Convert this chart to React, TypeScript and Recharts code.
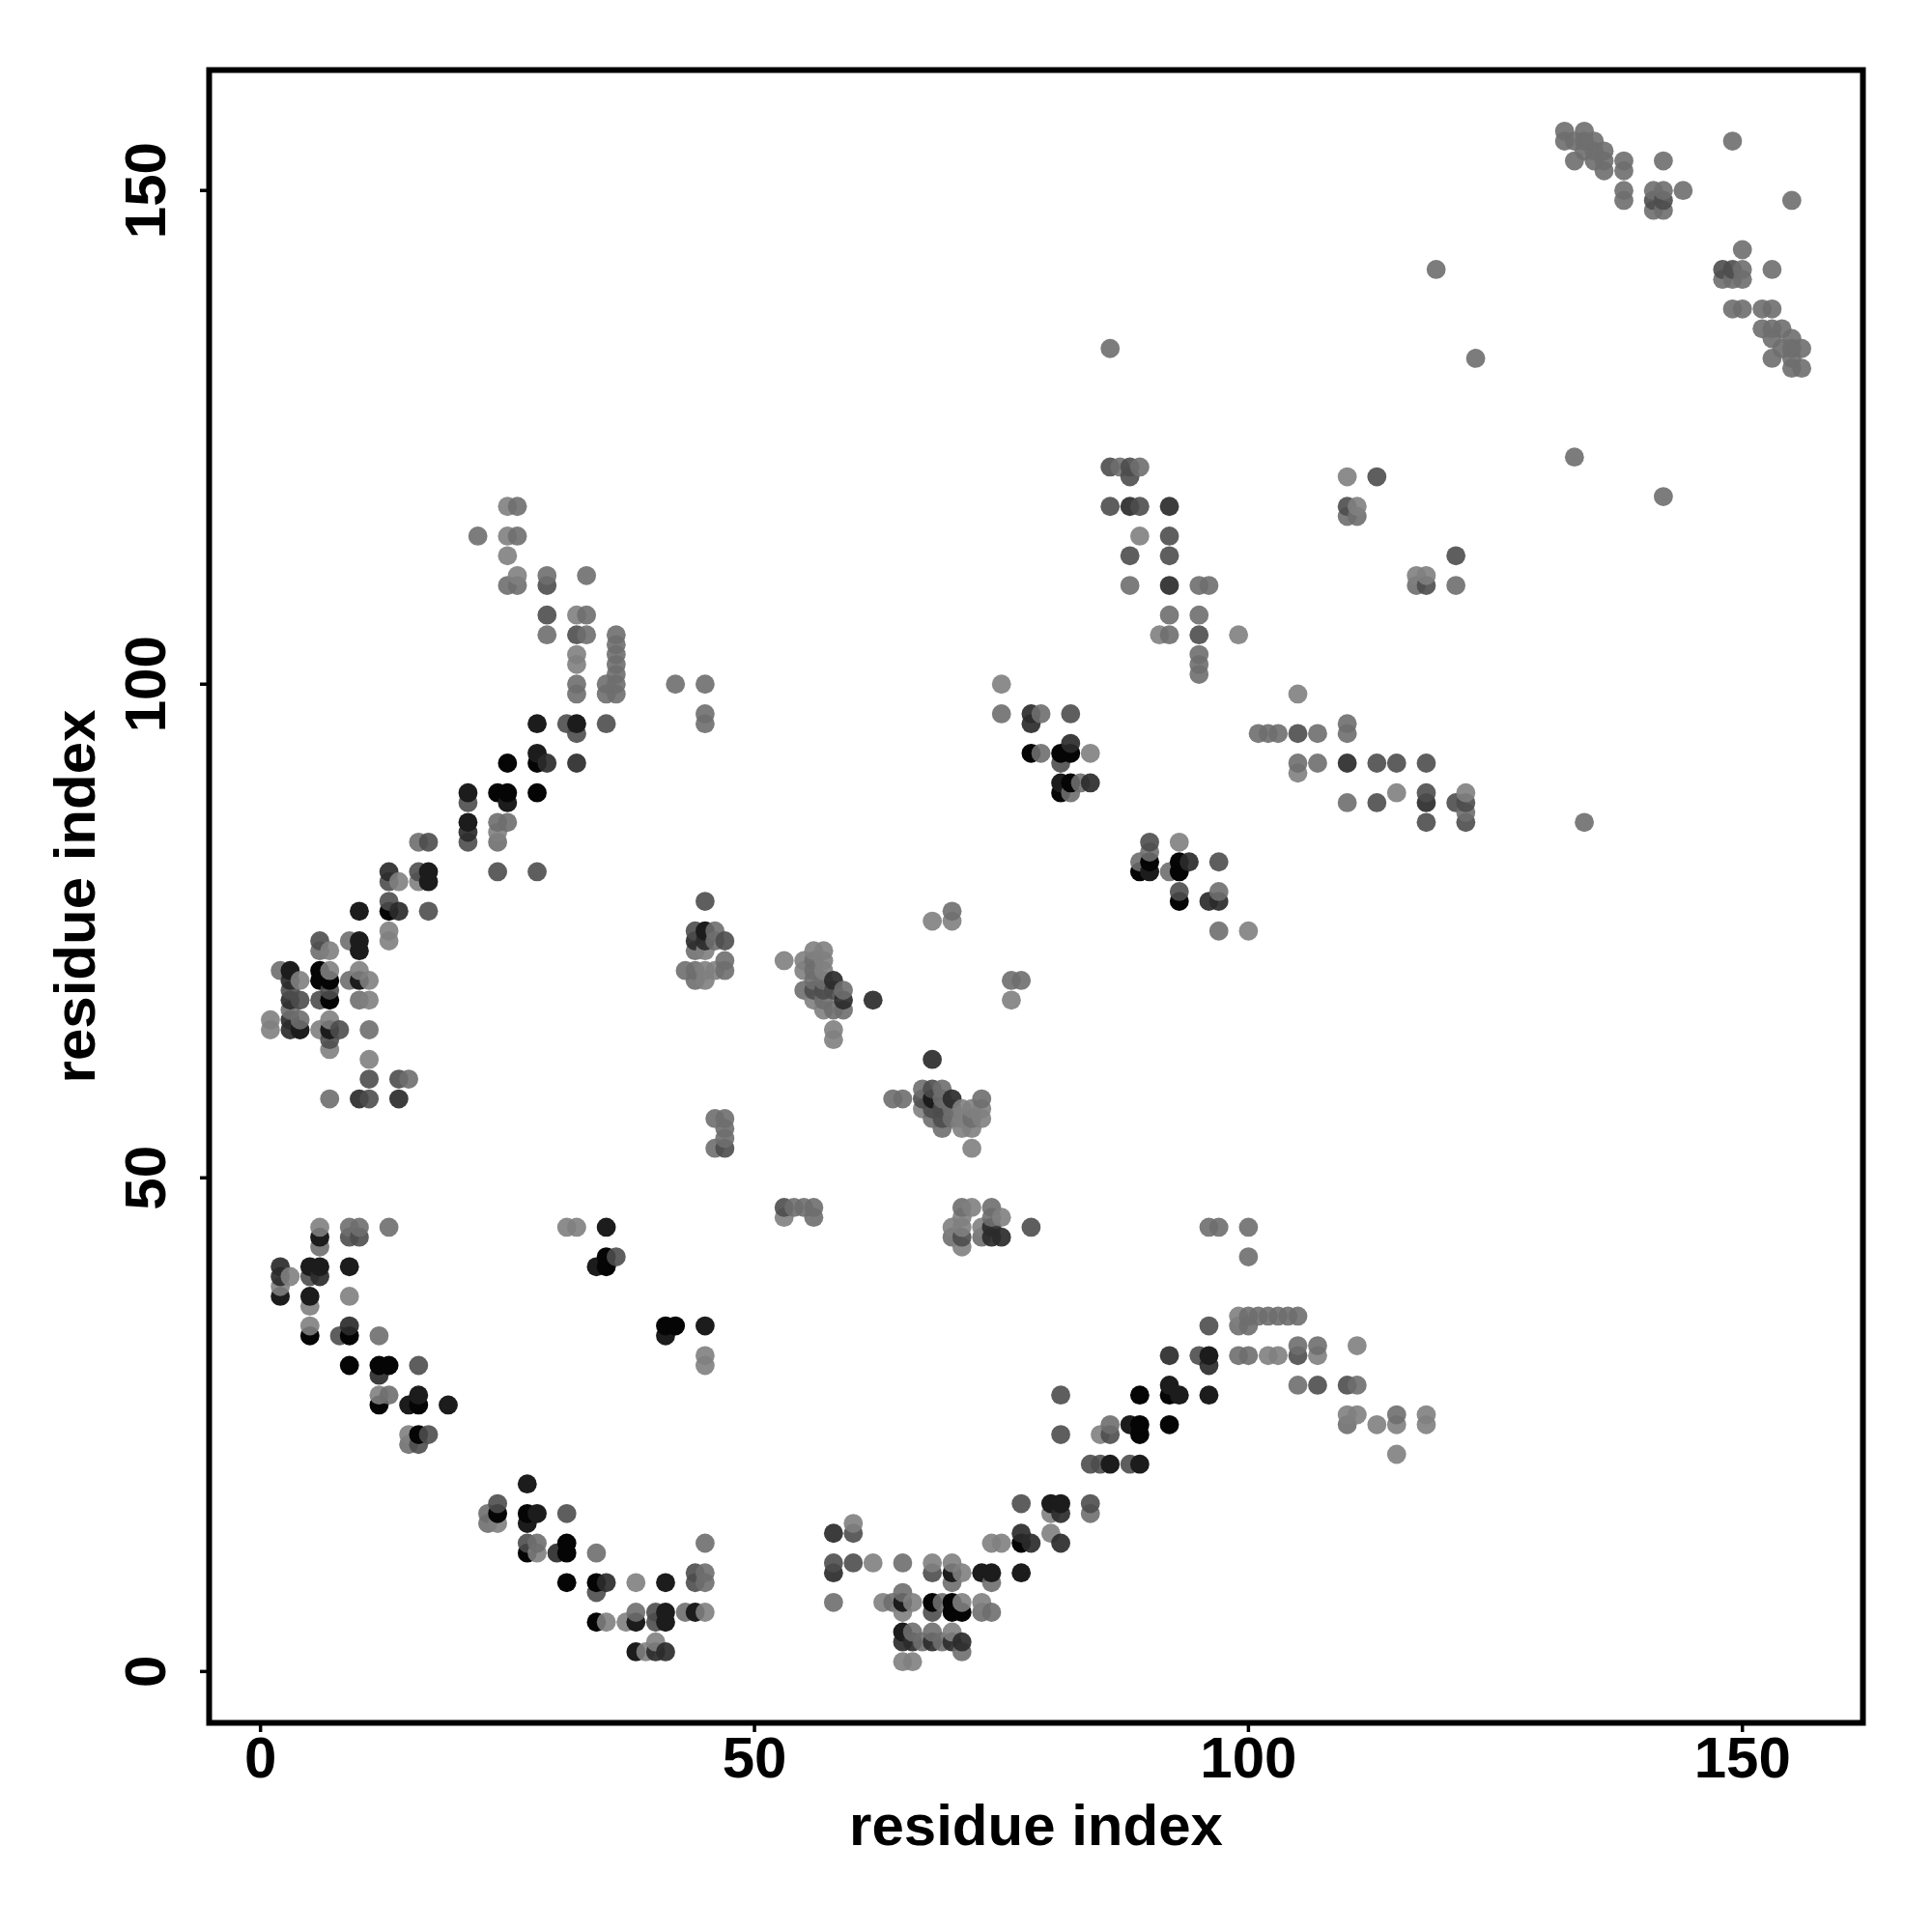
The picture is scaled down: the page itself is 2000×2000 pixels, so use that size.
import React from 'react';
import { ScatterChart, Scatter, XAxis, YAxis, ReferenceArea } from 'recharts';

type P = [number, number];
const parse = (s: string): P[] => s.split(';').map(t => t.split(',').map(Number) as P);

// contact strength classes, strongest first; "x,y" residue pairs
const level6 = parse('35,42;35,41;41,35;42,35;5,34;9,34;9,31;12,31;13,31;12,27;16,27;16,24;24,16;27,16;31,13;27,12;31,12;31,9;34,9;34,5;68,7;70,7;70,6;71,6;77,13;89,28;92,28;89,25;89,24;92,25;7,68;6,70;7,70;6,71;13,77;24,89;25,89;28,89;25,92;28,92;78,93;81,93;82,93;82,90;81,89;93,82;90,82;89,81;93,81;93,78');
const level5 = parse('35,45;6,44;5,41;6,41;9,41;34,41;5,38;2,38;45,35;41,34;16,28;15,27;19,27;27,19;28,16;27,15;41,9;38,5;41,5;41,6;44,6;92,29;93,28;96,28;88,25;80,17;81,17;86,21;89,21;70,10;73,10;74,10;77,10;65,4;96,32;4,65;7,65;3,71;10,70;10,73;10,74;10,77;17,81;17,80;21,86;21,89;25,88;28,96;32,96;28,93;45,75;68,58;38,2;65,7;90,81;81,90');
const level4 = parse('2,41;2,40;6,40;9,35;12,30;30,12;35,9;40,2;41,2;74,45;74,44;75,44;96,31;92,32;58,14;58,10;81,16;77,14;78,13;81,13;3,65;3,66;3,68;3,70;14,58;10,58;13,81;14,77;44,74;45,74;29,92;32,92;82,94;84,90;78,97;78,96;94,82;96,78;97,78;92,118;88,118;92,110;110,92;118,88;58,70;59,68;62,68;68,62;70,58;21,85;65,3;66,3;68,3;70,3;71,3');
const level3 = parse('9,44;10,44;36,42;5,40;8,34;16,31;17,24;16,23;24,17;31,16;27,13;44,10;44,9;34,8;40,6;40,5;53,47;60,14;78,45;71,44;95,32;96,35;81,28;81,24;86,24;84,21;85,21;88,21;77,17;84,17;58,11;60,11;68,10;68,6;105,32;107,29;110,29;11,60;14,60;11,58;8,65;7,64;4,68;6,68;3,69;7,69;6,74;17,77;13,78;13,80;16,81;17,84;21,84;21,88;24,81;28,81;44,75;47,74;29,110;29,107;32,105;31,96;35,96;32,95;45,78;57,69;56,69;58,69;68,59;67,58;68,57;69,57;69,56;47,53;82,97;81,92;90,84;97,82;93,79;86,122;88,122;88,121;113,121;86,118;89,118;110,118;92,115;88,113;92,113;121,113;118,110;95,105;105,95;113,92;115,92;118,92;118,89;113,88;121,88;122,88;118,86;122,86;141,149;142,149;148,142;149,142');
const level2 = parse('9,45;10,45;13,45;6,43;12,34;13,28;15,23;23,16;23,15;28,13;45,13;34,12;45,10;45,9;38,6;43,6;54,47;55,47;56,47;56,46;71,47;74,47;74,46;70,44;73,44;86,25;84,16;65,11;70,9;74,9;65,8;58,7;64,7;69,7;73,6;74,6;66,4;68,4;67,3;69,3;71,2;96,45;97,45;100,45;100,42;100,36;101,36;102,36;103,36;104,36;105,36;99,35;100,35;99,32;100,32;105,33;107,33;105,29;111,29;110,25;115,26;7,58;15,60;11,65;4,66;3,67;10,68;9,70;2,71;44,71;6,73;9,74;16,84;24,84;24,86;25,86;44,73;44,70;47,72;43,71;47,71;46,75;46,74;26,118;22,115;26,115;29,111;33,111;25,110;26,110;33,107;29,105;33,105;36,105;36,104;36,103;36,102;36,101;32,100;35,100;36,100;42,100;45,100;32,99;35,99;36,99;45,97;45,96;56,72;56,71;56,70;57,70;55,69;59,69;57,68;58,67;59,67;70,77;76,70;77,70;67,59;69,59;64,58;65,58;69,58;73,58;70,57;68,56;70,56;72,56;69,55;46,56;47,56;47,55;47,54;46,53;75,97;79,97;79,93;83,90;82,89;90,83;89,82;92,81;97,79;97,75;87,122;89,122;110,117;111,117;117,110;121,110;88,110;96,110;95,110;92,107;95,107;92,105;95,103;95,102;95,101;101,95;102,95;103,95;107,95;110,96;110,95;105,92;107,92;110,88;122,87;132,156;134,156;132,155;133,155;134,155;135,155;134,154;135,154;136,154;133,153;135,153;136,153;138,153;142,153;136,152;138,152;149,155;138,150;141,150;142,150;144,150;138,149;155,149;141,148;142,148;150,144;150,142;153,142;148,141;149,141;150,141;149,138;150,138;152,138;153,138;152,136;153,136;154,136;153,135;155,135;154,134;155,134;156,134;153,133;155,133;155,132;156,132;86,134;119,142;123,133;133,123;142,119;134,86');
const level1 = parse('6,45;31,45;32,45;3,40;2,39;9,38;5,37;5,35;45,32;45,31;12,28;15,24;24,15;28,12;38,9;45,6;35,5;37,5;40,3;39,2;53,46;72,47;71,46;75,46;70,45;71,45;73,45;71,43;60,15;85,24;80,16;80,14;74,13;75,13;62,11;68,11;70,11;71,10;63,7;66,7;71,7;73,7;65,6;70,4;65,1;66,1;99,36;102,32;103,32;107,32;111,33;110,26;111,26;113,25;115,25;118,26;118,25;115,22;7,63;1,65;6,65;1,66;7,66;11,62;11,68;4,70;11,70;7,71;10,71;7,73;13,74;13,75;14,80;16,80;24,85;45,73;45,71;46,71;45,70;25,118;25,115;25,113;26,111;32,107;32,103;32,102;53,72;56,73;57,73;55,72;57,72;55,71;57,71;56,68;57,67;58,65;58,64;68,76;70,76;76,68;67,57;71,57;72,57;73,57;71,56;73,56;71,55;72,55;72,53;75,100;84,93;93,84;100,75;105,99;105,91;89,115;110,121;111,118;117,111;118,111;91,105;99,105;115,89;122,89');

const xTicks = [0, 50, 100, 150];
const yTicks = [0, 50, 100, 150];
const axisLabel = 'residue index';

const fills = ['#7f7f7f', '#6e6e6e', '#4d4d4d', '#2b2b2b', '#1c1c1c', '#050505'];
const alphas = [0.9, 0.9, 0.9, 0.92, 1, 1];
const levels = [level1, level2, level3, level4, level5, level6];

const seen = new Set<string>();
const table: { x: number; y: number; level: number }[] = [];
[5, 4, 3, 2, 1, 0].forEach(l => {
  levels[l].forEach(([x, y]) => {
    const k = x + ',' + y;
    if (!seen.has(k)) {
      seen.add(k);
      table.push({ x, y, level: l });
    }
  });
});
table.sort((a, b) => a.x - b.x || a.y - b.y);

const FONT = '"Liberation Sans", Arial, sans-serif';
const DOMAIN: [number, number] = [-5.2, 162.2];

const Dot = (props: any) => {
  const { cx, cy, payload } = props;
  return <circle cx={cx} cy={cy} r={9.9} fill={fills[payload.level]} fillOpacity={alphas[payload.level]} />;
};

const XTick = (props: any) => (
  <text x={props.x} y={props.y + 45} textAnchor="middle" fontFamily={FONT} fontWeight="bold" fontSize={60} fill="#000">
    {props.payload.value}
  </text>
);

const YTick = (props: any) => (
  <text
    transform={`translate(${props.x - 34},${props.y}) rotate(-90)`}
    textAnchor="middle"
    fontFamily={FONT}
    fontWeight="bold"
    fontSize={60}
    fill="#000"
  >
    {props.payload.value}
  </text>
);

export default function App() {
  return (
    <div style={{ position: 'absolute', left: 0, top: 0, width: 2000, height: 2000, background: '#fff' }}>
      <ScatterChart width={2000} height={2000} margin={{ top: 72.5, right: 71.5, bottom: 0, left: 0 }}>
        <XAxis
          type="number"
          dataKey="x"
          domain={DOMAIN}
          ticks={xTicks}
          allowDataOverflow
          height={216.5}
          axisLine={false}
          tickSize={9.5}
          tickLine={{ stroke: '#000', strokeWidth: 3.5 }}
          tick={<XTick />}
          interval={0}
          label={{ value: axisLabel, position: 'insideBottom', offset: 90, fontFamily: FONT, fontWeight: 'bold', fontSize: 60, fill: '#000' }}
        />
        <YAxis
          type="number"
          dataKey="y"
          domain={DOMAIN}
          ticks={yTicks}
          allowDataOverflow
          width={216.5}
          axisLine={false}
          tickSize={9.5}
          tickLine={{ stroke: '#000', strokeWidth: 3.5 }}
          tick={<YTick />}
          interval={0}
          label={{ value: axisLabel, angle: -90, position: 'insideLeft', offset: 77, fontFamily: FONT, fontWeight: 'bold', fontSize: 60, fill: '#000', style: { textAnchor: 'middle' } }}
        />
        <Scatter data={table} shape={<Dot />} isAnimationActive={false} />
        <ReferenceArea x1={DOMAIN[0]} x2={DOMAIN[1]} y1={DOMAIN[0]} y2={DOMAIN[1]} fill="none" stroke="#000" strokeWidth={6} ifOverflow="visible" />
      </ScatterChart>
    </div>
  );
}
